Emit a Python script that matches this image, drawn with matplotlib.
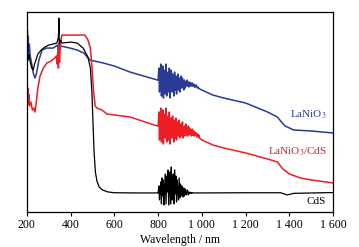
import matplotlib
matplotlib.use("Agg")
import matplotlib.pyplot as plt

plt.rcParams['font.family'] = ['Liberation Serif', 'DejaVu Serif']
plt.rcParams['mathtext.fontset'] = 'stix'

# CdS (black)
cds_nm = ([200, 203, 206, 210, 215, 222, 228, 235, 250, 265, 282, 300, 337, 343, 345, 346, 348,
           352, 360, 400, 430, 457, 479, 490, 497, 502, 507, 513, 520, 530, 545, 570, 600, 700, 797]
          + list(range(800, 963, 3))
          + [1000, 1200, 1360, 1390, 1420, 1600])
cds_val = ([78, 84, 76, 79, 75, 72, 71, 74, 79, 81, 82.5, 83.5, 84.5, 87, 90, 97, 84,
            86, 84.5, 85, 84.5, 82, 77.5, 72, 60, 45, 30, 20, 15.5, 12.5, 11, 10, 9.6, 9.5, 9.5]
           + [9.5, 13, 6, 11, 15, 4, 17, 8, 16, 3.5,
              12, 19, 4, 18, 10, 21, 3.5, 14, 20, 4,
              22.5, 6, 12, 19, 4, 21, 9, 18, 5, 16,
              11, 6, 17, 7, 14, 8, 13, 10, 7.5, 12,
              8, 11.5, 9, 8.5, 11, 10.5, 8.5, 10, 9.2, 9.8,
              9.3, 9.7, 9.4, 9.6, 9.5]
           + [9.5, 9.6, 9.6, 8.5, 9.3, 9.7])

# LaNiO3 (blue)
lno_nm = ([200, 202, 204, 206, 208, 211, 215, 222, 230, 237, 245, 255, 269, 290, 320, 340, 344,
           347, 350, 355, 397, 430, 460, 488, 550, 600, 671, 797]
          + list(range(800, 990, 3))
          + [1000, 1050, 1100, 1200, 1300, 1345, 1360, 1380, 1420, 1500, 1600])
lno_val = ([85, 91, 82, 88, 80, 84, 78, 74, 69, 67, 70, 76, 81, 82, 82, 83.5, 80,
            84, 81, 83, 82, 81, 79.5, 76, 74.5, 73, 70, 66]
           + [66, 72, 60, 68, 74, 58, 65, 73, 57, 71,
              64, 59, 74, 58, 67, 70, 60, 72, 57, 66,
              71, 60, 69, 63, 58, 70, 61, 68, 59, 64,
              69, 61, 67, 60, 65, 68, 62, 67, 63, 61,
              66, 62, 65, 63, 66, 63, 65, 62.5, 65, 63,
              64.5, 63, 64.5, 63, 64, 62.5, 63.5, 62.5, 63.5, 62.5,
              62, 62.5, 61.8, 61.6]
           + [61, 58.5, 57, 54.5, 50, 47.5, 45.5, 43, 41, 40.5, 39.5])

# LaNiO3/CdS (red)
lc_nm = ([200, 202, 204, 206, 208, 212, 218, 225, 232, 237, 243, 250, 260, 275, 291, 310, 327,
          335, 338, 341, 344, 346, 349, 352, 356, 360, 400, 430, 465, 479, 490, 497, 505, 512,
          520, 543, 566, 671, 797]
         + list(range(800, 990, 3))
         + [1000, 1050, 1100, 1200, 1300, 1345, 1370, 1400, 1450, 1500, 1600])
lc_val = ([64, 58, 62, 54, 59, 53, 55, 51, 52, 50, 55, 62, 68, 72, 74.5, 75.5, 77,
           78, 74, 80, 72, 84, 75, 82, 86, 88.5, 88.5, 88.5, 88.5, 86, 82, 73, 60, 53,
           52, 51, 49, 47.5, 43]
          + [43, 50, 36, 45, 52, 35, 41, 51, 34, 49,
             44, 37, 52, 35, 42, 48, 36, 50, 34, 45,
             47, 37, 48, 40, 35, 46, 37, 47, 36, 42,
             45, 38, 46, 37, 41, 44, 38, 45, 37, 40,
             43, 38, 44, 38.5, 42, 38, 43, 39, 42, 38.5,
             41, 38, 41.5, 38.5, 40.5, 38, 40, 38.5, 39.5, 37.5,
             39, 37.5, 38.5, 37]
          + [36, 33.5, 32, 29.5, 26.5, 25, 21.5, 19, 17, 16, 14.5])

xticks = [200, 400, 600, 800, 1000, 1200, 1400, 1600]
xtick_labels = ['200', '400', '600', '800', '1 000', '1 200', '1 400', '1 600']

blue = '#2b3a94'
red = '#ee1c25'

fig = plt.figure(figsize=(3.59, 2.47), dpi=100)
ax = fig.add_axes([0.075, 0.142, 0.853, 0.809])

ax.plot(lno_nm, lno_val, color=blue, lw=1.1)
ax.plot(lc_nm, lc_val, color=red, lw=1.1)
ax.plot(cds_nm, cds_val, color='black', lw=0.9)

ax.set_xlim(200, 1600)
ax.set_ylim(0, 100)
ax.set_xticks(xticks)
ax.set_xticklabels(xtick_labels)
ax.set_yticks([])
ax.tick_params(axis='x', direction='out', length=3, width=0.8, labelsize=8.5, pad=2)
for s in ax.spines.values():
    s.set_linewidth(0.9)

ax.set_xlabel('Wavelength / nm', fontsize=8.5, labelpad=2)

ax.text(1568, 48.5, 'LaNiO$_3$', color=blue, fontsize=8, ha='right', va='center')
ax.text(1570, 30, 'LaNiO$_3$/CdS', color=red, fontsize=8, ha='right', va='center')
ax.text(1568, 5, 'CdS', color='black', fontsize=8, ha='right', va='center')

fig.savefig('out.png', dpi=100)
